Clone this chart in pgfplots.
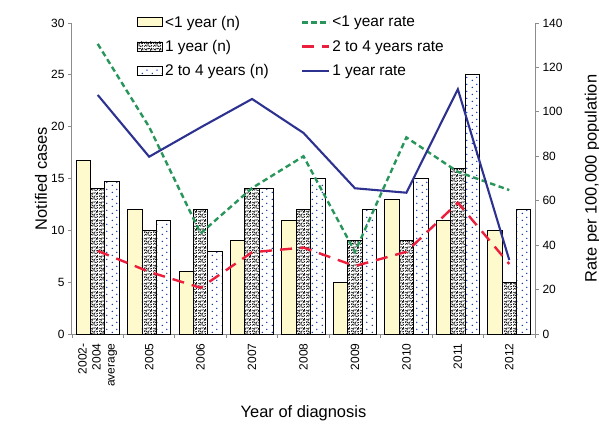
\documentclass[border=0pt]{standalone}
\usepackage{pgfplots}
\pgfplotsset{compat=1.18}
\usepackage{fontspec}
\setmainfont{Liberation Sans}
\usetikzlibrary{patterns}

\definecolor{lessone}{RGB}{255,250,205}
\definecolor{rategreen}{RGB}{40,150,90}
\definecolor{ratered}{RGB}{235,30,60}
\definecolor{rateblue}{RGB}{45,50,145}
\definecolor{dotblue}{RGB}{20,60,170}
\definecolor{axisgray}{RGB}{140,140,140}

% random-looking dashes, like the 1 year texture
\pgfdeclarepatternformonly{squiggle}{\pgfqpoint{0bp}{0bp}}{\pgfqpoint{9bp}{9bp}}{\pgfqpoint{9bp}{9bp}}{
  \pgfsetlinewidth{0.8bp}
  \pgfpathmoveto{\pgfqpoint{0.5bp}{0.5bp}}\pgfpathlineto{\pgfqpoint{2.0bp}{2.2bp}}
  \pgfpathmoveto{\pgfqpoint{3.0bp}{0.4bp}}\pgfpathlineto{\pgfqpoint{3.4bp}{2.4bp}}
  \pgfpathmoveto{\pgfqpoint{4.6bp}{1.4bp}}\pgfpathlineto{\pgfqpoint{6.4bp}{0.6bp}}
  \pgfpathmoveto{\pgfqpoint{7.2bp}{0.4bp}}\pgfpathlineto{\pgfqpoint{8.6bp}{2.0bp}}
  \pgfpathmoveto{\pgfqpoint{0.6bp}{3.4bp}}\pgfpathlineto{\pgfqpoint{1.0bp}{5.4bp}}
  \pgfpathmoveto{\pgfqpoint{2.0bp}{4.6bp}}\pgfpathlineto{\pgfqpoint{3.8bp}{3.2bp}}
  \pgfpathmoveto{\pgfqpoint{4.6bp}{2.8bp}}\pgfpathlineto{\pgfqpoint{5.8bp}{5.0bp}}
  \pgfpathmoveto{\pgfqpoint{6.8bp}{3.4bp}}\pgfpathlineto{\pgfqpoint{8.6bp}{3.9bp}}
  \pgfpathmoveto{\pgfqpoint{0.4bp}{7.8bp}}\pgfpathlineto{\pgfqpoint{2.0bp}{6.5bp}}
  \pgfpathmoveto{\pgfqpoint{2.8bp}{6.0bp}}\pgfpathlineto{\pgfqpoint{3.4bp}{8.4bp}}
  \pgfpathmoveto{\pgfqpoint{4.4bp}{7.4bp}}\pgfpathlineto{\pgfqpoint{6.2bp}{8.2bp}}
  \pgfpathmoveto{\pgfqpoint{6.8bp}{5.6bp}}\pgfpathlineto{\pgfqpoint{7.5bp}{7.7bp}}
  \pgfpathmoveto{\pgfqpoint{8.2bp}{8.6bp}}\pgfpathlineto{\pgfqpoint{8.7bp}{6.0bp}}
  \pgfusepath{stroke}
}
% sparse staggered dots for 2 to 4 years
\pgfdeclarepatternformonly{sparsedots}{\pgfqpoint{0bp}{0bp}}{\pgfqpoint{10bp}{7bp}}{\pgfqpoint{10bp}{7bp}}{
  \pgfpathcircle{\pgfqpoint{2.5bp}{1.75bp}}{0.85bp}
  \pgfpathcircle{\pgfqpoint{7.5bp}{5.25bp}}{0.85bp}
  \pgfusepath{fill}
}

\pgfplotsset{
  barleg/.style={legend image code/.code={\draw[##1,line width=0.8bp] (0bp,-4.5bp) rectangle (25bp,4.5bp);}},
  lineleg/.style={legend image code/.code={\draw[##1] (0bp,0bp) -- (27bp,0bp);}},
  s1/.style={fill=lessone, draw=black, line width=0.9bp},
  s2/.style={pattern=squiggle, pattern color=black, draw=black, line width=0.9bp},
  s3/.style={pattern=sparsedots, pattern color=dotblue, draw=black, line width=0.9bp},
  common/.style={
    width=463bp, height=311bp, scale only axis,
    xmin=-0.5, xmax=8.5,
    /pgf/number format/assume math mode=true,
    tick label style={font=\fontsize{12}{14}\selectfont, text=black},
    label style={font=\fontsize{16.5}{19}\selectfont},
    tick align=outside,
    major tick length=4bp,
    every tick/.style={draw=axisgray, line width=0.8bp},
    axis line style={draw=axisgray, line width=1bp},
  },
}

\pgfplotstableread{
x lt1 one two
0 16.7 14 14.7
1 12 10 11
2 6 12 8
3 9 14 14
4 11 12 15
5 5 9 12
6 13 9 15
7 11 16 25
8 10 5 12
}\cases

\pgfplotstableread{
x lt1 two one
0 130.6 37.4 107.6
1 93.2 28.0 79.8
2 45.3 20.8 93.0
3 65.7 36.8 105.8
4 80.0 38.9 90.5
5 37.0 30.6 65.6
6 88.5 37.0 63.6
7 73.0 59.1 110.2
8 64.8 31.5 33.3
}\rates

\begin{document}
\begin{tikzpicture}
\begin{axis}[common, name=ax,
  ybar, bar width=0.28,
  ymin=0, ymax=30, ytick={0,5,...,30},
  axis x line*=bottom, axis y line*=left,
  xtick={0,...,8},
  xticklabels={{2002-\\2004\\average},2005,2006,2007,2008,2009,2010,2011,2012},
  xticklabel style={rotate=90, anchor=east, align=right},
  xticklabel shift=2bp,
  major x tick style={draw=none},
  minor xtick={-0.5,0.5,...,8.5},
  minor tick length=4bp,
  minor x tick style={draw=axisgray, line width=0.8bp},
  xlabel={Year of diagnosis},
  xlabel style={at={(axis description cs:0.5,0)}, anchor=base, yshift=-83bp},
  ylabel={Notified cases},
  ylabel style={at={(axis description cs:-0.054,0.5)}, anchor=base},
]
\addplot[s1, bar shift=-0.28] table[x=x, y=lt1] {\cases};
\addplot[s2, bar shift=0] table[x=x, y=one] {\cases};
\addplot[s3, bar shift=0.28] table[x=x, y=two] {\cases};
\end{axis}

\begin{axis}[common,
  ymin=0, ymax=140, ytick={0,20,...,140},
  axis x line=none, axis y line*=right,
  ylabel={Rate per 100,000 population},
  ylabel style={at={(axis description cs:1.133,0.5)}, anchor=base},
  legend columns=2,
  legend cell align=left,
  legend style={at={(axis description cs:0.134,1.036)}, anchor=north west,
    draw=none, fill=none, font=\fontsize{15.5}{17}\selectfont,
    row sep=7.5bp,
    /tikz/every even column/.append style={column sep=30bp}},
]
\addlegendimage{barleg, s1}
\addplot[lineleg, rategreen, line width=2.4bp, dash pattern=on 5.5bp off 3.5bp] table[x=x, y=lt1] {\rates};
\addlegendimage{barleg, s2}
\addplot[lineleg, ratered, line width=2.4bp, dash pattern=on 12bp off 8bp] table[x=x, y=two] {\rates};
\addlegendimage{barleg, s3}
\addplot[lineleg, rateblue, line width=2.1bp] table[x=x, y=one] {\rates};
\legend{{<1 year (n)},{<1 year rate},{1 year (n)},{2 to 4 years rate},{2 to 4 years (n)},{1 year rate}}
\end{axis}

\pgfresetboundingbox
\path[use as bounding box] ([xshift=-72bp,yshift=-91bp]ax.south west) rectangle ([xshift=64bp,yshift=23bp]ax.north east);
\end{tikzpicture}
\end{document}
